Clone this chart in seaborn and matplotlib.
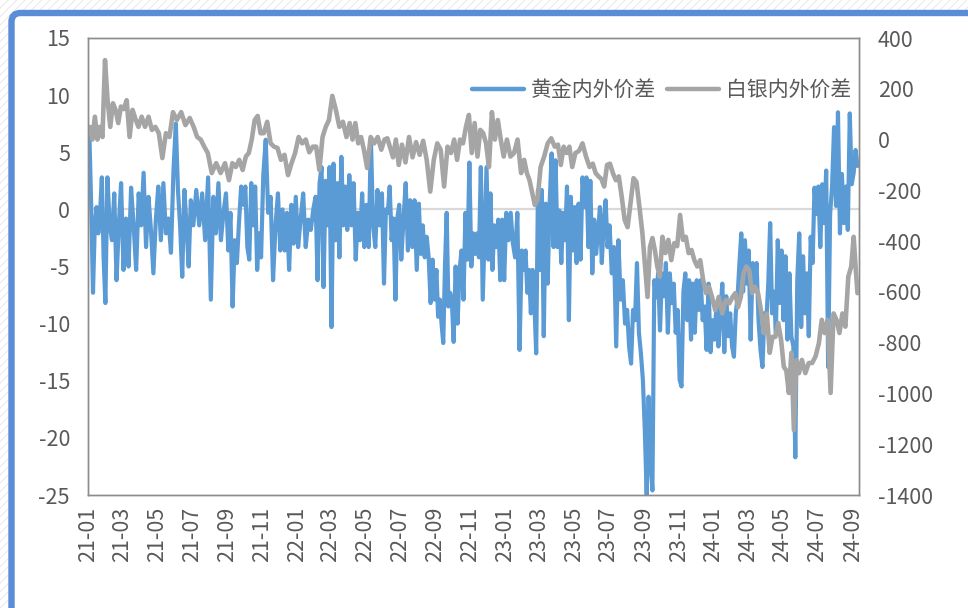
import matplotlib
matplotlib.use("Agg")
import matplotlib.pyplot as plt
import matplotlib.dates as mdates
from matplotlib.patches import Rectangle, FancyBboxPatch
from matplotlib.transforms import IdentityTransform
import seaborn as sns
import pandas as pd

# ---------------- data ----------------
SERIES_NAMES = ["黄金内外价差", "白银内外价差"]
START_MONTH = "2021-01-01"
DATA_END = "2024-09-11"

# gold spread (left axis), readings in chronological order, grouped by month
GOLD = [
    6.3, 0.2, -7.3, -1.5, 0.2, -2.1, -0.3, 2.8, -4.2, -8.2,
    2.8, -1.4, -2.7, 1.4, -6.2, -1.4, 2.3,
    -5.3, -0.8, -5.0, 1.9, -1.4, -5.3, 1.4,
    -1.4, 3.2, -3.3, 1.1, -1.8, -5.6, -0.9,
    2.0, -2.7, 2.3, -2.1, -0.8, -3.8, 3.4,
    7.5, 1.7, -1.4, -5.9, 1.7, -1.4, -5.0, 0.8,
    -1.4, 1.7, -1.4, 1.4, -2.7, 2.8,
    -7.9, 1.1, -2.1, 2.3, -2.7, -0.3, 1.4,
    -3.6, -0.3, -8.5, -2.7, -4.7, -1.1, 2.0, 0.4,
    2.0, -3.3, -4.4, 2.3, -1.4, 2.0, -5.3, -2.1, -4.2,
    3.0, 6.1, -0.3, 1.1, -6.2, -1.4, 1.4,
    -3.6, 0.0, -3.6, -0.3, -5.3, 0.4, -3.0, 1.1,
    -3.3, -0.8, 1.4, -3.3, -0.9, -1.8, 0.0,
    1.1, -6.2, 2.3, 3.7, -6.8, 2.5, -1.4, 3.7,
    -10.3, 4.0, -2.7, 2.3, -4.2, 4.6, -1.4, 2.0, -1.8,
    3.0, -1.4, 2.3, -4.4, -0.3, -2.7, 1.4, -3.3,
    0.4, -3.3, 6.2, -1.4, -3.3, 1.7, -1.4, 1.4,
    -6.5, 0.0, -0.3, 2.0, -2.7, -0.8, -7.9, -0.8, 0.4,
    -4.4, -0.9, 2.3, -3.6, 0.8, -3.3, 0.8, -5.3,
    0.5, -3.9, -1.4, -4.2, -2.4, -4.2, -8.2, -4.4, -7.9,
    -5.3, -9.4, -7.9, -10.0, -11.7, -5.0, -0.3, -8.5, -7.3, -7.9,
    -11.6, -5.0, -10.0, -5.3, -3.6, -7.9, -0.3, -4.4, 4.1,
    -5.0, -2.1, -3.9, -2.1, -4.2, 3.7, -7.9, -2.1, 3.7,
    -4.4, 1.4, -5.3, -1.4, -3.3, -0.9, -6.2, -0.9, -6.2,
    -0.3, -2.7, -0.3, -3.0, -4.2, -0.3, -12.3, -3.6,
    -5.3, -3.6, -7.3, -5.3, -9.1, -5.3, -8.2, -12.6, 1.7,
    -5.3, 1.7, -11.1, 0.5, -6.5, 0.5, 4.9, -3.3, 4.3,
    -3.3, -0.1, -4.7, -0.3, -2.7, 2.0, -9.7, 1.1, -3.6,
    0.2, -4.7, 0.5, -4.4, 2.8, 0.2, 2.8, -3.3, 2.5,
    -5.6, -0.9, -3.9, -2.1, 0.2, -4.7, -1.1, 0.8, -3.3,
    -1.4, -5.6, -3.3, -12.0, -2.7, -7.9, -6.2, -10.0,
    -8.8, -12.0, -13.5, -8.8, -9.7, -4.7, -10.8, -12.6, -14.9,
    -19.3, -25.0, -16.4, -22.2, -24.6, -6.2, -7.7, -5.6, -10.6,
    -5.6, -7.6, -4.7, -10.8, -5.6, -8.2, -6.5, -10.8, -8.8,
    -14.9, -15.5, -7.2, -5.6, -9.7, -6.2, -11.4, -6.5, -10.8,
    -6.2, -8.8, -6.2, -9.7, -8.5, -12.3, -6.5, -12.5, -9.7,
    -11.4, -8.5, -12.0, -9.1, -6.5, -12.5, -7.6, -11.1, -9.1,
    -12.0, -12.9, -9.1, -7.6, -4.7, -2.1, -7.2, -2.7, -6.5,
    -3.6, -11.4, -4.7, -6.5, -4.7, -9.7, -12.3, -13.8, -9.1,
    -9.7, -6.5, -1.2, -9.1, -7.2, -10.8, -2.7, -8.2, -3.6,
    -9.7, -4.1, -11.4, -5.6, -11.1, -12.0, -21.7, -6.2, -2.1,
    -10.3, -4.1, -9.1, -5.6, -11.1, -2.4, -4.7, 1.9, -0.4,
    2.0, -3.3, 2.2, -1.2, 3.4, -13.8, -0.4, 2.0, 7.2,
    0.3, 8.5, -2.1, 3.1, -1.2, 2.0, -1.8, 8.4, 2.2,
    3.2, 5.2, 3.8,
]
GOLD_PER_MONTH = [10, 7, 7, 7, 7, 8, 6, 7, 8, 9, 7, 8, 7, 8, 9, 8, 8, 9, 8, 9,
                  10, 9, 9, 9, 8, 9, 9, 9, 9, 9, 8, 9, 9, 9, 9, 9, 9, 9, 9, 9,
                  9, 9, 9, 9, 3]

# silver spread (right axis)
SILVER = [
    50, 0, 90, 0, 50, 10, 313,
    155, 50, 143, 117, 65, 130,
    120, 155, 10, 117, 80, 50,
    90, 50, 90, 38, 50,
    25, -73, 25, 10, 108,
    77, 108, 57, 85,
    50, 10, 0, -28, -53,
    -132, -93, -132, -93,
    -160, -93, -108, -80, -120,
    -67, -53, 0, 77, 93, 25,
    25, 70, -15, -28, -33,
    -80, -60, -140, -93, -53,
    10, -15, 0, -50, -28,
    -28, -120, 10, 50, 77,
    172, 117, 50, 70, 10,
    65, 0, 65, -15, 10, -40,
    -112, 10, -15, 10, -40,
    0, 5, -33, -70, 0, -100,
    -20, -90, 10, -70, -10,
    -60, -5, -80, -205, -80,
    -15, -40, -185, -28, -53,
    0, -80, 0, -15, 50, 97,
    -53, 65, -67, 38, 25, -15,
    -108, 108, 0, 77, 0, -67,
    0, -67, -53, 0, -132,
    -80, -132, -160, -210, -258, -238,
    -108, -67, -15, 5, -28,
    -20, -100, -28, -53, -28, -108,
    -53, -45, -15, -67, -108,
    -95, -132, -145, -155, -185, -100,
    -95, -132, -160, -145, -226, -317,
    -345, -250, -152, -167, -265, -368,
    -500, -620, -423, -388, -435, -500, -540,
    -383, -447, -395, -475, -408, -420,
    -297, -395, -383, -447, -435, -475,
    -500, -475, -553, -605, -580, -620,
    -672, -620, -685, -632, -645,
    -620, -605, -660, -620, -527, -500,
    -515, -605, -580, -605, -672, -762,
    -685, -840, -777, -777, -723, -790,
    -895, -910, -998, -840, -1144, -868, -920,
    -868, -920, -880, -880, -853,
    -803, -710, -762, -710, -998, -685,
    -710, -762, -685, -737, -540, -500,
    -383, -500, -605,
]
SILVER_PER_MONTH = [7, 6, 6, 5, 5, 4, 5, 4, 5, 6, 5, 5, 5, 5, 5, 6, 5, 6, 5, 5,
                    5, 6, 6, 6, 5, 6, 5, 6, 5, 6, 6, 6, 7, 6, 6, 6, 5, 6, 6, 6,
                    7, 5, 6, 6, 3]

LEFT_TICKS = [15, 10, 5, 0, -5, -10, -15, -20, -25]
RIGHT_TICKS = [400, 200, 0, -200, -400, -600, -800, -1000, -1200, -1400]


def month_dates(counts, end):
    end = pd.Timestamp(end)
    starts = pd.date_range(START_MONTH, periods=len(counts), freq="MS")
    out = []
    for s, n in zip(starts, counts):
        e = min(s + pd.offsets.MonthBegin(1), end)
        span = e - s
        out += [s + span * ((k + 0.5) / n) for k in range(n)]
    return out


gold_df = pd.DataFrame({"date": month_dates(GOLD_PER_MONTH, DATA_END), "v": GOLD})
silver_df = pd.DataFrame({"date": month_dates(SILVER_PER_MONTH, DATA_END), "v": SILVER})

# ---------------- style ----------------
sns.set_style("white")
plt.rcParams["font.family"] = ["Noto Sans CJK SC", "DejaVu Sans"]
plt.rcParams["hatch.linewidth"] = 0.6

BLUE = "#5B9BD5"
GREY = "#A5A5A5"
TXT = "#595959"
SPINE = "#8C8C8C"

W, H = 968, 608
fig = plt.figure(figsize=(W / 100, H / 100), dpi=100)
fig.patch.set_facecolor("white")

# faint hatched page background + blue rounded frame
fig.patches.append(Rectangle((0, 0), W, H, transform=IdentityTransform(),
                             facecolor="white", edgecolor="#e4e4e4", hatch="////",
                             lw=0, zorder=-20))
fig.patches.append(FancyBboxPatch((11.5, -60), 1200, H - 13 + 60,
                                  boxstyle="round,pad=0,rounding_size=9",
                                  transform=IdentityTransform(),
                                  facecolor="white", edgecolor="#5B8DD6",
                                  lw=4.6, zorder=-10))

ax = fig.add_axes([88 / W, 1 - 495 / H, 771 / W, 457 / H])
ax2 = ax.twinx()

ax.axhline(0, color="#D9D9D9", lw=1.6, zorder=0)
sns.lineplot(data=gold_df, x="date", y="v", ax=ax, color=BLUE, lw=3.0,
             label=SERIES_NAMES[0], estimator=None, sort=False)
sns.lineplot(data=silver_df, x="date", y="v", ax=ax2, color=GREY, lw=3.3,
             label=SERIES_NAMES[1], estimator=None, sort=False)

h1, l1 = ax.get_legend_handles_labels()
h2, l2 = ax2.get_legend_handles_labels()
for a in (ax, ax2):
    if a.get_legend() is not None:
        a.get_legend().remove()
    a.set_xlabel("")
    a.set_ylabel("")

ax.set_ylim(-25, 15)
ax2.set_ylim(-1400, 400)
ax.set_yticks(LEFT_TICKS)
ax2.set_yticks(RIGHT_TICKS)
ax.set_yticklabels([str(t) for t in LEFT_TICKS])
ax2.set_yticklabels([str(t) for t in RIGHT_TICKS])

ax.set_xlim(pd.Timestamp("2020-12-31"), pd.Timestamp("2024-09-12"))
xt = pd.date_range("2021-01-01", "2024-09-01", freq="2MS")
ax.set_xticks(xt)
ax.xaxis.set_major_formatter(mdates.DateFormatter("%y-%m"))
ax.tick_params(axis="x", rotation=90, length=0, pad=8.5, labelsize=15.5, labelcolor=TXT)
ax.tick_params(axis="y", length=0, pad=13, labelsize=15.5, labelcolor=TXT)
ax2.tick_params(axis="y", length=0, pad=13.5, labelsize=15.5, labelcolor=TXT)

for a in (ax, ax2):
    for sp in a.spines.values():
        sp.set_visible(True)
        sp.set_color(SPINE)
        sp.set_linewidth(1.0)
ax.grid(False)
ax2.grid(False)

leg = ax2.legend(h1 + h2, l1 + l2, loc="center right",
                 bbox_to_anchor=(0.99, 0.886), ncol=2, frameon=False,
                 fontsize=15, handlelength=2.5, handletextpad=0.35,
                 columnspacing=0.5, borderaxespad=0, borderpad=0)
for t in leg.get_texts():
    t.set_color(TXT)
for lh in leg.get_lines():
    lh.set_linewidth(3.2)

fig.savefig("out.png", dpi=100)
